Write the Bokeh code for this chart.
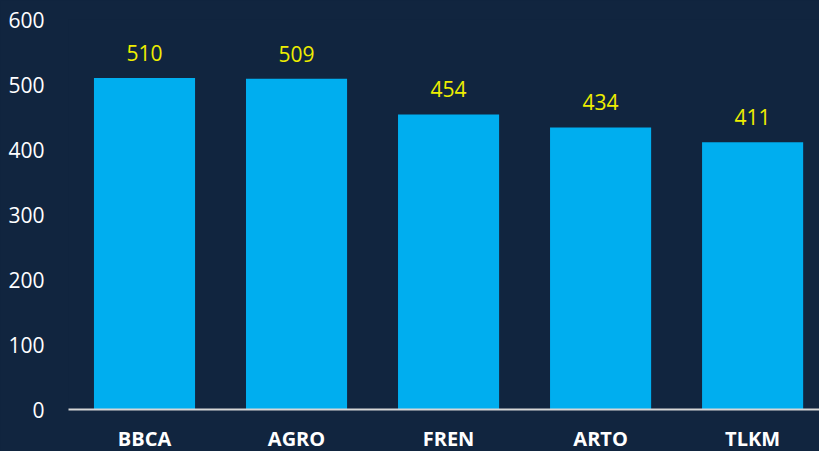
from bokeh.plotting import figure
from bokeh.models import ColumnDataSource, Range1d, FixedTicker, LabelSet
from bokeh.core.properties import value
from bokeh.embed import file_html
from bokeh.resources import INLINE

categories = ["BBCA", "AGRO", "FREN", "ARTO", "TLKM"]
values = [510, 509, 454, 434, 411]
y_ticks = [0, 100, 200, 300, 400, 500, 600]

BG = "#11253f"
BAR = "#00aeef"
LABEL = "#eeee00"

xs = [i + 0.5 for i in range(len(categories))]
src = ColumnDataSource(dict(x=xs, top=values, lab=[str(v) for v in values]))

p = figure(width=819, height=454, output_backend="svg", toolbar_location=None,
           x_range=Range1d(0, 4.94), y_range=Range1d(0, 600),
           min_border_left=68, min_border_right=0, min_border_top=19, min_border_bottom=10)
p.background_fill_color = BG
p.border_fill_color = BG
p.outline_line_color = None
p.grid.visible = False

p.vbar(x="x", top="top", width=0.665, bottom=0, source=src, fill_color=BAR, line_color=None)

values_labels = LabelSet(x="x", y="top", text="lab", source=src, text_align="center",
                         text_baseline="alphabetic", y_offset=17, text_color=LABEL,
                         text_font_size=value("21px"), text_font=value("Open Sans"))
p.add_layout(values_labels)

xa = p.xaxis[0]
xa.ticker = FixedTicker(ticks=xs)
xa.major_label_overrides = {x: c for x, c in zip(xs, categories)}
xa.major_tick_line_color = None
xa.minor_tick_line_color = None
xa.major_tick_out = 0
xa.major_tick_in = 0
xa.axis_line_color = "#d6d6d6"
xa.axis_line_width = 2
xa.major_label_text_color = "white"
xa.major_label_text_font = "Open Sans"
xa.major_label_text_font_style = "bold"
xa.major_label_text_font_size = "20px"
xa.major_label_standoff = 15

ya = p.yaxis[0]
ya.ticker = FixedTicker(ticks=y_ticks)
ya.major_tick_line_color = None
ya.minor_tick_line_color = None
ya.major_tick_out = 0
ya.major_tick_in = 0
ya.axis_line_color = None
ya.major_label_text_color = "white"
ya.major_label_text_font = "Open Sans"
ya.major_label_text_font_size = "21px"
ya.major_label_standoff = 24

html = file_html(p, INLINE)
style = "<style>html,body{margin:0;padding:0;background:%s;overflow:hidden}</style>" % BG
html = html.replace("</head>", style + "</head>", 1)
open("out.html", "w").write(html)
